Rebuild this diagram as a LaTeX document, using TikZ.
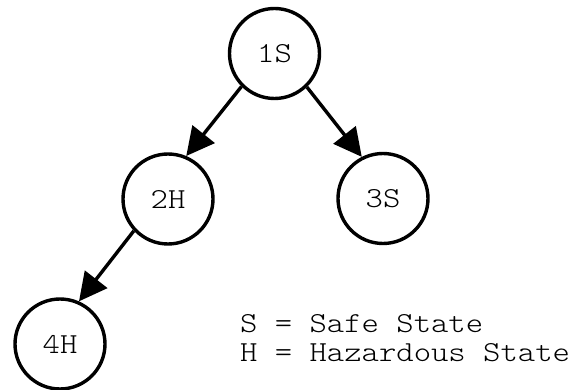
\documentclass[tikz,border=0pt]{standalone}
\usepackage{fontspec}
\usetikzlibrary{arrows.meta}
\newfontfamily\statefont[FakeStretch=1.14]{lmmonolt10-regular.otf}
\begin{document}
\begin{tikzpicture}[x=1pt,y=1pt,
  state/.style={circle,draw,line width=3.4pt,minimum size=90pt,inner sep=0pt,
    font=\statefont\fontsize{29}{29}\selectfont},
  trans/.style={line width=3.4pt,-{Triangle[length=28pt,width=28pt]}},
  legend/.style={anchor=base west,inner sep=0pt,
    font=\statefont\fontsize{29}{29}\selectfont}]
  \useasboundingbox (0,0) rectangle (574,-390);
  % states of the tree
  \node[state] (s1) at (274.5,-53.5) {1S};
  \node[state] (s2) at (168,-199) {2H};
  \node[state] (s3) at (383,-198.5) {3S};
  \node[state] (s4) at (60,-344) {4H};
  % transitions
  \draw[trans] (s1.225) -- (s2.67);
  \draw[trans] (s1.314) -- (s3.117);
  \draw[trans] (s2.223) -- (s4.66);
  % key
  \node[legend] (k1) at (240,-333) {S = Safe State};
  \node[legend] (k2) at (240,-361.5) {H = Hazardous State};
\end{tikzpicture}
\end{document}
